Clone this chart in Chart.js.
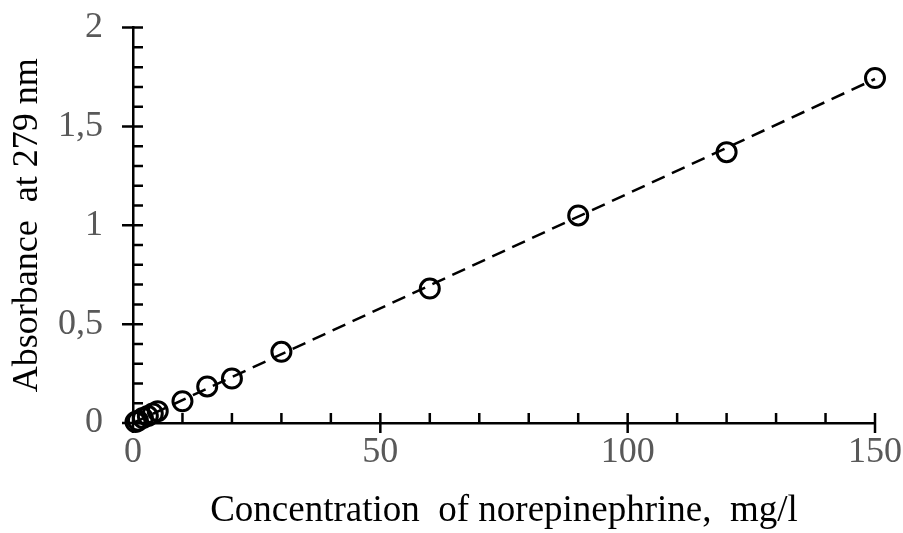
<!DOCTYPE html>
<html>

<head>
    <meta charset="utf-8">
    <script src="https://cdn.jsdelivr.net/npm/chart.js@4.4.0/dist/chart.umd.min.js"></script>
    <style>
        body { margin: 0; background: #fff; }
        #chart-container { width: 903px; height: 533px; }
    </style>
</head>

<body>
    <div id="chart-container">
        <canvas id="calibChart" width="903" height="533"></canvas>
    </div>
    <script>
        // measured points
        const concentration = [0.5, 1, 2, 3, 4, 5, 10, 15, 20, 30, 60, 90, 120, 150];
        const absorbance = [0.005, 0.012, 0.025, 0.035, 0.048, 0.06, 0.11, 0.185, 0.225, 0.36, 0.68, 1.05, 1.37, 1.745];

        // fitted line end points
        const fitX = [0, 150];
        const fitY = [0, 1.74];

        const xMajor = [0, 50, 100, 150];
        const yMajor = [0, 0.5, 1, 1.5, 2];

        const serif = "'Liberation Serif', 'DejaVu Serif', serif";

        const ctx = document.getElementById('calibChart').getContext('2d');

        // tick marks: majors cross the axis, minors point inward
        const tickMarks = {
            id: 'tickMarks',
            afterDraw: function (chart) {
                const c = chart.ctx, xs = chart.scales.x, ys = chart.scales.y;
                const x0 = xs.getPixelForValue(0), y0 = ys.getPixelForValue(0);
                c.save();
                c.strokeStyle = '#000';
                c.lineWidth = 2.5;
                c.beginPath();
                for (let v = 0; v <= 150; v += 10) {
                    const px = xs.getPixelForValue(v);
                    const major = xMajor.includes(v);
                    c.moveTo(px, y0 - 10);
                    c.lineTo(px, major ? y0 + 10 : y0);
                }
                for (let i = 0; i <= 20; i++) {
                    const v = i / 10;
                    const py = ys.getPixelForValue(v);
                    const major = i % 5 === 0;
                    c.moveTo(major ? x0 - 11 : x0, py);
                    c.lineTo(x0 + 10, py);
                }
                c.stroke();
                c.restore();
            }
        };

        // invisible built-in ticks only to push the labels away from the axis
        const hiddenGrid = (len) => ({
            display: true,
            drawOnChartArea: false,
            drawTicks: true,
            tickLength: len,
            tickColor: 'rgba(0,0,0,0)'
        });

        const chart = new Chart(ctx, {
            type: 'scatter',
            data: {
                datasets: [
                    {
                        label: 'fit',
                        type: 'line',
                        data: fitX.map((x, i) => ({ x: x, y: fitY[i] })),
                        borderColor: '#000',
                        borderWidth: 2.5,
                        borderDash: [14, 8],
                        pointRadius: 0,
                        fill: false,
                        clip: false,
                        order: 2
                    },
                    {
                        label: 'data',
                        data: concentration.map((x, i) => ({ x: x, y: absorbance[i] })),
                        pointStyle: 'circle',
                        pointRadius: 9.5,
                        pointBorderWidth: 3,
                        pointBorderColor: '#000',
                        pointBackgroundColor: 'rgba(255,255,255,0)',
                        clip: false,
                        order: 1
                    }
                ]
            },
            options: {
                responsive: false,
                animation: false,
                layout: { padding: { top: 0, right: 0, left: 6, bottom: 0 } },
                plugins: {
                    legend: { display: false },
                    tooltip: { enabled: false }
                },
                scales: {
                    x: {
                        type: 'linear',
                        min: 0,
                        max: 150,
                        afterFit: s => { s.height = 110; },
                        grid: hiddenGrid(7),
                        border: { display: true, color: '#000', width: 2.5 },
                        ticks: {
                            stepSize: 10,
                            padding: 1,
                            color: '#595959',
                            font: { family: serif, size: 36 },
                            maxRotation: 0,
                            autoSkip: false,
                            callback: v => (xMajor.includes(v) ? String(v) : '')
                        },
                        title: {
                            display: true,
                            text: 'Concentration  of norepinephrine,  mg/l',
                            color: '#000',
                            font: { family: serif, size: 37 },
                            padding: { top: 0, bottom: 0 }
                        }
                    },
                    y: {
                        type: 'linear',
                        min: 0,
                        max: 2,
                        afterFit: s => { s.width = 127; },
                        grid: hiddenGrid(24),
                        border: { display: true, color: '#000', width: 2.5 },
                        ticks: {
                            stepSize: 0.1,
                            padding: 6,
                            color: '#595959',
                            font: { family: serif, size: 36 },
                            autoSkip: false,
                            callback: function (v) {
                                const r = Math.round(v * 10);
                                if (r % 5 !== 0) return '';
                                return String(r / 10).replace('.', ',');
                            }
                        },
                        title: {
                            display: true,
                            text: 'Absorbance  at 279 nm',
                            color: '#000',
                            font: { family: serif, size: 36 },
                            padding: { top: 0, bottom: 0 }
                        }
                    }
                }
            },
            plugins: [tickMarks]
        });
    </script>
</body>

</html>
